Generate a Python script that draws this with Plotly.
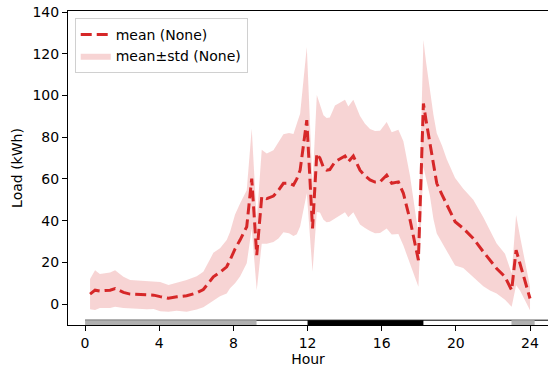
import numpy as np
import plotly.graph_objects as go

hours = [0.27, 0.54, 0.8, 1.1, 1.35, 1.62, 2.07, 2.43, 2.9, 3.33, 3.7, 4.05, 4.5, 4.95,
         5.48, 6.02, 6.38, 6.74, 6.92, 7.28, 7.64, 7.82, 8.09, 8.36, 8.72, 8.99, 9.26,
         9.53, 9.8, 10.16, 10.43, 10.7, 11.0, 11.24, 11.42, 11.6, 11.96, 12.27, 12.5,
         12.67, 12.86, 13.03, 13.2, 13.48, 14.02, 14.2, 14.47, 14.83, 15.1, 15.37, 15.64,
         15.91, 16.27, 16.54, 16.9, 17.17, 17.53, 17.98, 18.25, 18.39, 18.6, 18.79, 18.97,
         19.25, 19.51, 19.96, 20.4, 20.94, 21.48, 21.84, 22.2, 22.65, 23.01, 23.25, 23.46, 24.0]
mean_load = [4.8, 6.7, 6.3, 6.5, 6.7, 7.5, 5.6, 4.8, 4.6, 4.3, 4.3, 3.6, 2.8, 3.5,
             4.0, 5.4, 7.0, 11.0, 13.1, 15.3, 17.9, 21.1, 26.5, 30.7, 37.1, 60.2, 23.5,
             51.5, 50.6, 51.8, 54.5, 57.9, 58.0, 57.1, 60.0, 64.2, 88.2, 36.3, 72.2,
             69.9, 65.5, 64.2, 64.5, 68.2, 71.0, 68.2, 71.0, 64.2, 61.5, 59.5, 58.5,
             58.6, 61.8, 57.9, 58.6, 53.1, 40.3, 21.1, 96.2, 88.2, 77.3, 65.8, 57.9,
             52.5, 47.5, 39.5, 36.3, 31.5, 25.1, 21.0, 17.1, 13.1, 6.7, 25.9, 19.5, 2.7]
std_load = [7.2, 9.5, 8.2, 8.3, 8.5, 8.8, 7.5, 6.8, 6.8, 6.7, 6.6, 7.0, 6.4, 6.7,
            7.6, 8.0, 8.5, 10.5, 11.5, 11.5, 12.8, 13.5, 16.5, 17.5, 17.5, 24.0, 16.8,
            22.5, 21.6, 22.0, 23.0, 23.5, 24.0, 24.5, 26.5, 27.0, 35.0, 20.8, 28.0,
            26.0, 25.0, 25.0, 25.0, 27.0, 27.0, 26.5, 27.0, 26.0, 25.0, 24.5, 24.5,
            24.5, 25.5, 24.5, 25.0, 25.0, 21.0, 12.8, 30.4, 28.0, 25.3, 25.0, 24.0,
            23.5, 22.0, 21.0, 19.0, 18.5, 16.5, 14.5, 12.0, 11.0, 8.0, 16.8, 13.0, 5.6]

# time-of-day strip periods (hours) at the bottom of the axes
period_starts = [0.0, 12.0, 23.0]
period_ends = [9.25, 18.25, 24.25]
period_colors = ["#b0b0b0", "#000000", "#b0b0b0"]

x_ticks = [0, 4, 8, 12, 16, 20, 24]
y_ticks = [0, 20, 40, 60, 80, 100, 120, 140]

x_range = [-0.92, 24.97]
y_range = [-10, 140.5]
strip_top = -7.7

m = np.array(mean_load)
s = np.array(std_load)
h = np.array(hours)
upper = m + s
lower = m - s

fig = go.Figure()
fig.add_trace(go.Scatter(
    x=np.concatenate([h, h[::-1]]), y=np.concatenate([upper, lower[::-1]]),
    fill="toself", fillcolor="rgba(214,39,40,0.2)", line=dict(width=0),
    mode="lines", name="mean±std (None)", hoverinfo="skip"))
fig.add_trace(go.Scatter(
    x=h, y=m, mode="lines", name="mean (None)",
    line=dict(color="#d62728", width=3, dash="11px,5px")))

# strip outline line
fig.add_shape(type="line", xref="x", yref="y", x0=period_starts[0], x1=x_range[1],
              y0=strip_top, y1=strip_top, line=dict(color="black", width=1), layer="above")
for a, b, c in zip(period_starts, period_ends, period_colors):
    fig.add_shape(type="rect", xref="x", yref="y", x0=a, x1=b, y0=y_range[0], y1=strip_top,
                  fillcolor=c, line=dict(width=0), layer="above")

fig.update_layout(
    width=548, height=374,
    margin=dict(l=68, r=0, t=11, b=49),
    paper_bgcolor="white", plot_bgcolor="white",
    font=dict(family="DejaVu Sans", size=14, color="black"),
    showlegend=True,
    legend=dict(x=0.014, y=0.978, xanchor="left", yanchor="top",
                bgcolor="rgba(255,255,255,0.8)", bordercolor="#d0d0d0", borderwidth=1,
                font=dict(size=14), traceorder="reversed", itemwidth=30,
                tracegroupgap=2),
    xaxis=dict(range=x_range, tickvals=x_ticks, ticks="outside", ticklen=5,
               tickcolor="black", showline=True, linecolor="black", linewidth=1,
               mirror=True, showgrid=False, zeroline=False, tickfont=dict(size=14),
               title=dict(text="Hour", standoff=4, font=dict(size=14))),
    yaxis=dict(range=y_range, tickvals=y_ticks, ticks="outside", ticklen=5,
               tickcolor="black", showline=True, linecolor="black", linewidth=1,
               showgrid=False, zeroline=False, tickfont=dict(size=14),
               title=dict(text="Load (kWh)", standoff=6, font=dict(size=14))),
)

fig.write_html("out.html")
